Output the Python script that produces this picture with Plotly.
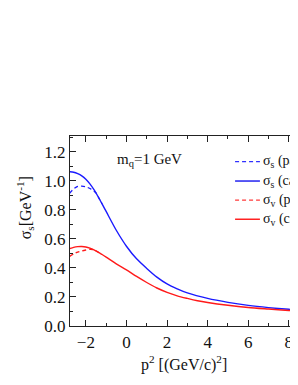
import plotly.graph_objects as go

# ---- data ----
x_s_calc = [-2.8, -2.6, -2.4, -2.2, -2.0, -1.8, -1.6, -1.4, -1.2, -1.0, -0.5, 0.0, 0.5, 1.0, 1.5, 2.0, 2.5, 3.0, 4.0, 5.0, 6.0, 7.0, 8.0, 8.5]
s_calc = [1.064, 1.06, 1.05, 1.035, 1.012, 0.98, 0.94, 0.893, 0.842, 0.79, 0.66, 0.55, 0.463, 0.397, 0.337, 0.29, 0.256, 0.228, 0.19, 0.163, 0.142, 0.127, 0.115, 0.11]

x_s_par = [-2.8, -2.6, -2.4, -2.2, -2.0, -1.8, -1.6, -1.5, -1.4, -1.2]
s_par = [0.915, 0.945, 0.962, 0.965, 0.96, 0.948, 0.93, 0.918, 0.893, 0.842]

x_v_calc = [-2.8, -2.6, -2.4, -2.2, -2.0, -1.8, -1.6, -1.4, -1.2, -1.0, -0.5, 0.0, 0.5, 1.0, 1.5, 2.0, 2.5, 3.0, 3.5, 4.0, 5.0, 6.0, 7.0, 8.0, 8.5]
v_calc = [0.533, 0.542, 0.547, 0.548, 0.545, 0.537, 0.525, 0.51, 0.493, 0.475, 0.428, 0.387, 0.342, 0.3, 0.262, 0.232, 0.208, 0.19, 0.174, 0.162, 0.143, 0.128, 0.117, 0.107, 0.102]

x_v_par = [-2.8, -2.6, -2.4, -2.2, -2.0, -1.8, -1.6, -1.4, -1.2]
v_par = [0.48, 0.497, 0.51, 0.518, 0.524, 0.529, 0.525, 0.51, 0.493]

legend_labels = ["σ<sub>s</sub> (parametrized)", "σ<sub>s</sub> (calculated)",
                 "σ<sub>v</sub> (parametrized)", "σ<sub>v</sub> (calculated)"]
legend_colors = ["#3030ff", "#0000ee", "#ff3a3a", "#ff0000"]
legend_dash = ["dash", "solid", "dash", "solid"]

BLUE = "#1a1aff"
RED = "#ff1a1a"
FONT = "Liberation Serif"

fig = go.Figure()
fig.add_trace(go.Scatter(x=x_s_par, y=s_par, mode="lines", line=dict(color=BLUE, width=1.3, dash="4px,3px", shape="spline", smoothing=0.8)))
fig.add_trace(go.Scatter(x=x_v_par, y=v_par, mode="lines", line=dict(color=RED, width=1.3, dash="4px,3px", shape="spline", smoothing=0.8)))
fig.add_trace(go.Scatter(x=x_s_calc, y=s_calc, mode="lines", line=dict(color=BLUE, width=1.4, shape="spline", smoothing=0.8)))
fig.add_trace(go.Scatter(x=x_v_calc, y=v_calc, mode="lines", line=dict(color=RED, width=1.4, shape="spline", smoothing=0.8)))

axis_common = dict(
    showgrid=False, zeroline=False, showline=True, linecolor="#222", linewidth=1.3,
    ticks="inside", ticklen=6, tickwidth=1.2, tickcolor="#222",
    tickfont=dict(family=FONT, size=17, color="#111"),
)
fig.update_xaxes(range=[-2.78, 8.45], dtick=2, tick0=0, mirror="ticks",
                 minor=dict(dtick=1, ticks="inside", ticklen=3, tickcolor="#222"), **axis_common)
fig.update_yaxes(range=[0, 1.31], dtick=0.2, tick0=0, tickformat=".1f", mirror=False,
                 minor=dict(dtick=0.1, ticks="inside", ticklen=3, tickcolor="#222"), **axis_common)

annotations = [
    dict(text="σ<sub>s</sub>[GeV<sup>-1</sup>]", x=-0.197, y=0.62, xref="paper", yref="paper",
         textangle=-90, showarrow=False, font=dict(family=FONT, size=16, color="#111"),
         xanchor="center", yanchor="middle"),
    dict(text="p<sup>2</sup> [(GeV/c)<sup>2</sup>]", x=0.50, y=-0.195, xref="paper", yref="paper",
         showarrow=False, font=dict(family=FONT, size=16, color="#111"),
         xanchor="center", yanchor="middle"),
    dict(text="m<sub>q</sub>=1 GeV", x=0.197, y=0.874, xref="paper", yref="paper",
         showarrow=False, font=dict(family=FONT, size=15, color="#111"),
         xanchor="left", yanchor="middle"),
]
shapes = []
rows_y = [0.865, 0.763, 0.663, 0.562]
for lab, col, dsh, yy in zip(legend_labels, legend_colors, legend_dash, rows_y):
    shapes.append(dict(type="line", xref="paper", yref="paper", x0=0.724, x1=0.833, y0=yy, y1=yy,
                       line=dict(color=col, width=1.3, dash="4px,3px" if dsh == "dash" else "solid")))
    annotations.append(dict(text=lab, x=0.836, y=yy, xref="paper", yref="paper", showarrow=False,
                            font=dict(family=FONT, size=14, color="#111"), xanchor="left", yanchor="middle"))

fig.update_layout(
    width=290, height=377, margin=dict(l=62, r=0, t=128, b=59),
    plot_bgcolor="white", paper_bgcolor="white", showlegend=False,
    annotations=annotations, shapes=shapes,
)
fig.write_html("out.html")
